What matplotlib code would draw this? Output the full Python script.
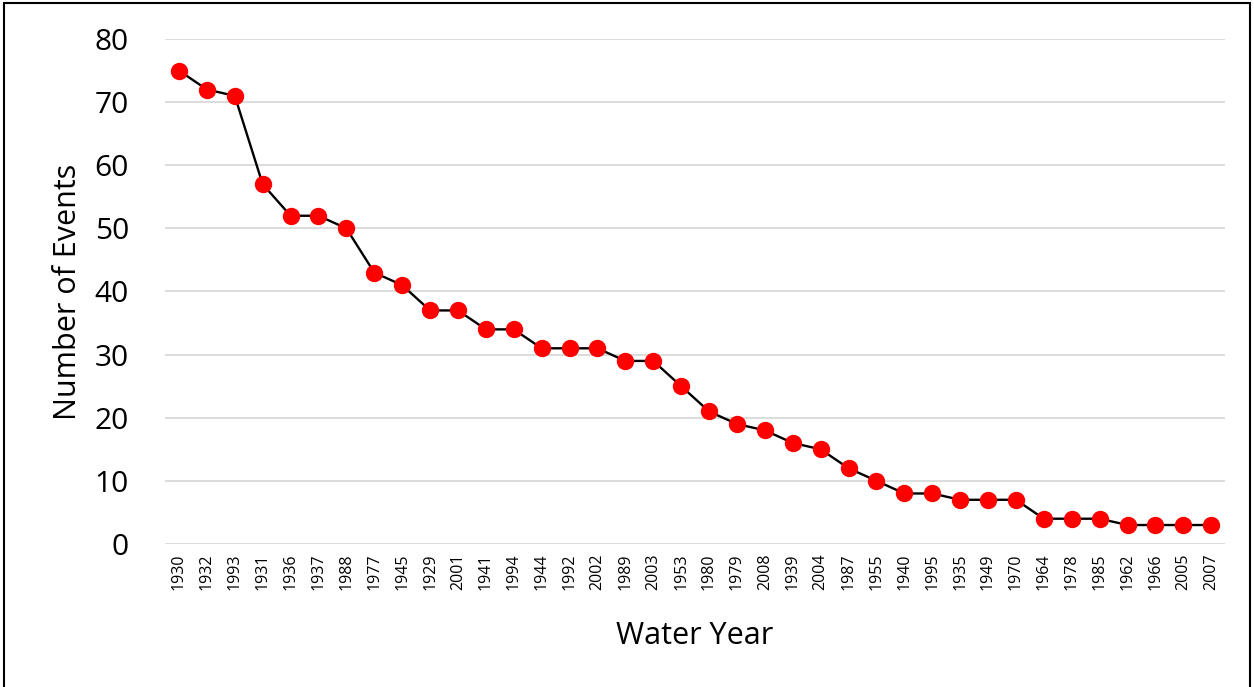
import matplotlib.pyplot as plt
from matplotlib.patches import Rectangle

years = ['1930', '1932', '1993', '1931', '1936', '1937', '1988', '1977', '1945', '1929',
         '2001', '1941', '1994', '1944', '1992', '2002', '1989', '2003', '1953', '1980',
         '1979', '2008', '1939', '2004', '1987', '1955', '1940', '1995', '1935', '1949',
         '1970', '1964', '1978', '1985', '1962', '1966', '2005', '2007']
events = [75, 72, 71, 57, 52, 52, 50, 43, 41, 37,
          37, 34, 34, 31, 31, 31, 29, 29, 25, 21,
          19, 18, 16, 15, 12, 10, 8, 8, 7, 7,
          7, 4, 4, 4, 3, 3, 3, 3]

plt.rcParams['font.family'] = ['Open Sans', 'DejaVu Sans']

fig = plt.figure(figsize=(12.54, 6.87), dpi=100)
ax = fig.add_axes([0.1316, 0.2082, 0.8454, 0.735])

x = list(range(len(years)))
ax.plot(x, events, color='black', linewidth=1.7, marker='o', markersize=11.5,
        markerfacecolor='#ff0000', markeredgecolor='#ff0000', zorder=3)

ax.set_xlim(-0.5, len(years) - 0.5)
ax.set_ylim(0, 80)
ax.set_yticks(range(0, 81, 10))
ax.set_xticks(x)
ax.set_xticklabels(years, rotation=90, fontsize=11.5)
ax.tick_params(axis='y', labelsize=21.5, length=0, pad=26)
ax.tick_params(axis='x', length=0, pad=7)
ax.grid(axis='y', color='#d9d9d9', linewidth=1.3)
ax.set_axisbelow(True)
for s in ax.spines.values():
    s.set_visible(False)

ax.set_xlabel('Water Year', fontsize=22, labelpad=22)
ax.set_ylabel('Number of Events', fontsize=22, labelpad=8)

# border round the figure
fig.patches.append(Rectangle((0.003, -0.01), 0.994, 1.005, transform=fig.transFigure,
                             fill=False, edgecolor='black', linewidth=1.5))

fig.savefig('out.png', dpi=100)
